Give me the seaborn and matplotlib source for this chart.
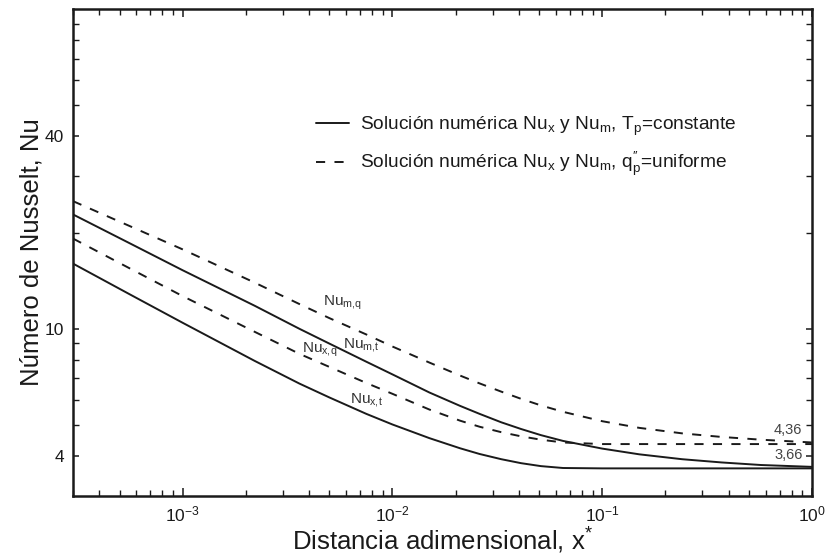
import numpy as np
import pandas as pd
import matplotlib
matplotlib.use("Agg")
import matplotlib.pyplot as plt
import seaborn as sns
from matplotlib.lines import Line2D
from matplotlib.ticker import FixedLocator, FixedFormatter, NullFormatter, LogLocator

sns.set_theme(style="ticks")
plt.rcParams['font.family'] = ['Liberation Sans', 'DejaVu Sans']
plt.rcParams['mathtext.default'] = 'regular'

# values (log-log)
x_star = [3e-4, 5.6e-4, 1e-3, 2.2e-3, 3.6e-3, 5e-3, 7.5e-3, 1e-2, 1.5e-2, 2.1e-2, 2.6e-2,
          3.3e-2, 4.1e-2, 5.1e-2, 6.5e-2, 0.1, 0.15, 0.24, 0.37, 0.57, 1.0]
nu_x_t = [15.99, 12.81, 10.44, 7.94, 6.74, 6.10, 5.42, 5.02, 4.55, 4.23, 4.06,
          3.91, 3.80, 3.72, 3.67, 3.66, 3.66, 3.66, 3.66, 3.66, 3.66]
nu_m_t = [22.78, 18.50, 15.24, 11.81, 10.00, 8.99, 7.89, 7.20, 6.32, 5.74, 5.42,
          5.10, 4.86, 4.65, 4.46, 4.22, 4.05, 3.91, 3.82, 3.75, 3.70]
nu_x_q = [19.15, 15.44, 12.65, 9.79, 8.35, 7.60, 6.77, 6.26, 5.59, 5.16, 4.94,
          4.75, 4.61, 4.50, 4.41, 4.36, 4.36, 4.36, 4.36, 4.36, 4.36]
nu_m_q = [25.07, 20.94, 17.71, 13.95, 11.95, 10.80, 9.60, 8.80, 7.84, 7.14, 6.75,
          6.36, 6.04, 5.76, 5.50, 5.14, 4.90, 4.71, 4.59, 4.50, 4.41]

curve_names = ['Nu_x,t', 'Nu_m,t', 'Nu_x,q', 'Nu_m,q']
curve_vals = [nu_x_t, nu_m_t, nu_x_q, nu_m_q]

df = pd.DataFrame({
    'x': np.tile(x_star, len(curve_names)),
    'Nu': np.concatenate(curve_vals),
    'curva': np.repeat(curve_names, len(x_star)),
})

ink = '#1a1a1a'
dash = (4.7, 4.8)
fig = plt.figure(figsize=(8.26, 5.6), dpi=100)
ax = fig.add_axes([0.0884, 0.1143, 0.8947, 0.8696])

for name in curve_names:
    sub = df[df['curva'] == name]
    sns.lineplot(data=sub, x='x', y='Nu', ax=ax, color=ink, lw=1.4,
                 sort=False, legend=False)
    if name.endswith('q'):
        ax.lines[-1].set_dashes(dash)

ax.set_xscale('log')
ax.set_yscale('log')
ax.set_xlim(3e-4, 1.0)
ax.set_ylim(3, 100)

ax.yaxis.set_major_locator(FixedLocator([4, 10, 40]))
ax.yaxis.set_major_formatter(FixedFormatter(['4', '10', '40']))
ax.yaxis.set_minor_locator(FixedLocator([5, 6, 7, 8, 9, 20, 30, 50, 60, 70, 80, 90]))
ax.yaxis.set_minor_formatter(NullFormatter())
ax.xaxis.set_major_locator(LogLocator(base=10, numticks=10))
ax.xaxis.set_minor_locator(LogLocator(base=10, subs=np.arange(2, 10), numticks=20))
ax.xaxis.set_minor_formatter(NullFormatter())

ax.tick_params(which='both', direction='in', top=True, right=True, colors=ink,
               labelsize=12.5, pad=6)
ax.tick_params(which='major', length=6, width=1.1)
ax.tick_params(which='minor', length=4, width=1.0)
ax.tick_params(axis='y', which='major', length=4, pad=6.5)
for s in ax.spines.values():
    s.set_linewidth(1.8)
    s.set_color(ink)

ax.set_xlabel(r'Distancia adimensional, x$^{*}$', fontsize=18.5, color=ink, labelpad=1)
ax.set_ylabel('Número de Nusselt, Nu', fontsize=18.5, color=ink, labelpad=1)

# curve labels
lab_kw = dict(fontsize=11, color='#333333')
ax.text(4.65e-3, 11.8, r'Nu$_{m,\!q}$', **lab_kw)
ax.text(5.8e-3, 8.72, r'Nu$_{m,\!t}$', **lab_kw)
ax.text(3.7e-3, 8.41, r'Nu$_{x,\!q}$', **lab_kw)
ax.text(6.27e-3, 5.86, r'Nu$_{x,\!t}$', **lab_kw)
ax.text(0.987, 4.69, '4,36', fontsize=10.5, color='#444444', ha='right',
        transform=ax.get_yaxis_transform())
ax.text(0.987, 3.91, '3,66', fontsize=10.5, color='#444444', ha='right',
        transform=ax.get_yaxis_transform())

handles = [Line2D([], [], color=ink, lw=1.4),
           Line2D([], [], color=ink, lw=1.4, dashes=dash)]
labels = [r'Solución numérica Nu$_x$ y Nu$_m$, T$_p$=constante',
          r'Solución numérica Nu$_x$ y Nu$_m$, q$^{\prime\prime}_p$=uniforme']
fig.legend(handles, labels, frameon=False, fontsize=13.8, loc='upper left',
           bbox_to_anchor=(316 / 826, 1 - 115 / 560), borderpad=0, borderaxespad=0,
           handlelength=1.72, handletextpad=0.57, labelspacing=0.62, labelcolor=ink)

fig.savefig('out.png', dpi=100)
